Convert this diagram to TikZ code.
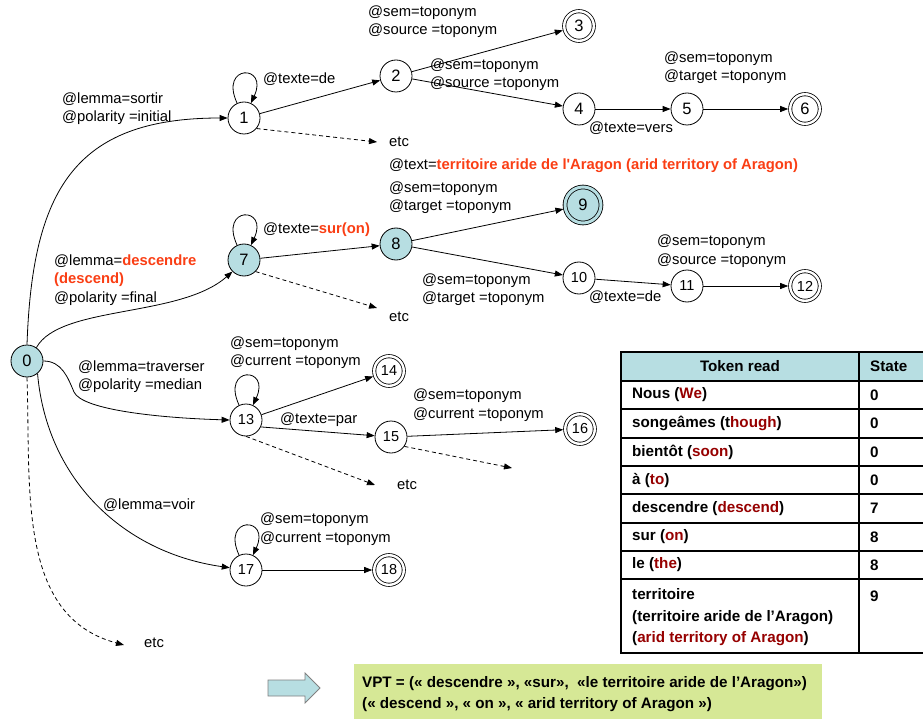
\documentclass[tikz,border=0pt]{standalone}
\usepackage{fontspec}
\setmainfont{Liberation Sans}[Ligatures=TeXOff]
\usetikzlibrary{arrows.meta}

\definecolor{stateblue}{RGB}{183,222,226}
\definecolor{hired}{RGB}{250,62,20}
\definecolor{tokred}{RGB}{150,0,0}
\definecolor{vptgreen}{RGB}{214,232,150}

\newcommand{\hi}[1]{\textbf{\color{hired}#1}}
\newcommand{\tr}[1]{{\color{tokred}#1}}

\begin{document}
\begin{tikzpicture}[x=1pt,y=1pt,
    state/.style={circle,draw,line width=0.8pt,minimum size=32pt,inner sep=0pt,
        fill=white,font=\fontsize{16.5}{18}\selectfont},
    final/.style={state,double,double distance=2.4pt,minimum size=29.6pt,outer sep=2pt},
    seen/.style={fill=stateblue},
    twodig/.style={font=\fontsize{14.5}{16}\selectfont},
    lab/.style={anchor=west,inner sep=0pt,align=left,font=\fontsize{14.8}{18.5}\selectfont},
    tab/.style={anchor=west,inner sep=0pt,align=left,font=\fontsize{15.2}{21.5}\selectfont\bfseries},
    trans/.style={line width=0.8pt,-{Triangle[length=8pt,width=6pt]}},
    dashtrans/.style={trans,dash pattern=on 4pt off 3pt},
    selfloop/.style={out=115,in=65,looseness=8}]
    \useasboundingbox (0,0) rectangle (923,-719);

    % States
    \node[state,seen] (n0) at (27,-361) {0};
    \node[state] (n1) at (244,-118) {1};
    \node[state] (n2) at (396,-76) {2};
    \node[final] (n3) at (579,-26) {3};
    \node[state] (n4) at (579,-109) {4};
    \node[state] (n5) at (687,-109) {5};
    \node[final] (n6) at (805,-109) {6};
    \node[state,seen] (n7) at (244,-260) {7};
    \node[state,seen] (n8) at (396,-244) {8};
    \node[final,seen,double=stateblue,double distance=3pt,minimum size=36pt] (n9) at (583,-205) {9};
    \node[state,twodig] (n10) at (579,-278) {10};
    \node[state,twodig] (n11) at (687,-286) {11};
    \node[final,twodig] (n12) at (805,-286) {12};
    \node[state,twodig] (n13) at (246,-420) {13};
    \node[final,twodig] (n14) at (389,-371) {14};
    \node[state,twodig] (n15) at (391,-437) {15};
    \node[final,twodig] (n16) at (580,-429) {16};
    \node[state,twodig] (n17) at (246,-570) {17};
    \node[final,twodig] (n18) at (389,-570) {18};

    % Open ends
    \coordinate (e0) at (124,-645);
    \coordinate (e1) at (377,-142);
    \coordinate (e7) at (377,-308);
    \coordinate (e13) at (375,-485);
    \coordinate (e15) at (512,-468);
    \node[lab] (etc0) at (144,-643) {etc};
    \node[lab] (etc1) at (389,-142) {etc};
    \node[lab] (etc7) at (389,-317) {etc};
    \node[lab] (etc13) at (397,-485) {etc};

    % From the start state
    \draw[trans] (n0.north) to[out=88,in=180,looseness=1.3] (n1);
    \draw[trans] (n0.55) .. controls (60,-305) and (180,-318) .. (n7.225);
    \draw[trans] (n0.east) .. controls (62,-361) and (68,-378) .. (74,-392)
        .. controls (82,-410) and (160,-418) .. (n13.west);
    \draw[trans] (n0.-50) to[out=-85,in=172] (n17);
    \draw[dashtrans] (n0.south) to[out=-88,in=165] (e0);

    % Self loops
    \draw[trans] (n1) to[selfloop] (n1);
    \draw[trans] (n7) to[selfloop] (n7);
    \draw[trans] (n13) to[selfloop] (n13);
    \draw[trans] (n17) to[selfloop] (n17);

    % Branches
    \draw[trans] (n1) -- (n2);
    \draw[trans] (n2) -- (n3);
    \draw[trans] (n2) -- (n4);
    \draw[trans] (n4) -- (n5);
    \draw[trans] (n5) -- (n6);
    \draw[trans] (n7) -- (n8);
    \draw[trans] (n8) -- (n9);
    \draw[trans] (n8) -- (n10);
    \draw[trans] (n10) -- (n11);
    \draw[trans] (n11) -- (n12);
    \draw[trans] (n13) -- (n14);
    \draw[trans] (n13.-25) -- (n15);
    \draw[trans] (n15) -- (n16);
    \draw[trans] (n17) -- (n18);
    \draw[dashtrans] (n1.-40) -- (e1);
    \draw[dashtrans] (n7.-45) -- (e7);
    \draw[dashtrans] (n13.south) -- (e13);
    \draw[dashtrans] (n15.-35) -- (e15);

    % Transition labels
    \node[lab] (l01) at (62,-108.5) {@lemma=sortir\\@polarity =initial};
    \node[lab] (l07) at (54,-280) {@lemma=\hi{descendre}\\\hi{(descend)}\\@polarity =final};
    \node[lab] (l013) at (78,-376.5) {@lemma=traverser\\@polarity =median};
    \node[lab] (l017) at (103,-505) {@lemma=voir};
    \node[lab] (l12) at (263,-79) {@texte=de};
    \node[lab] (l23) at (368,-21.5) {@sem=toponym\\@source =toponym};
    \node[lab] (l24) at (430,-74.5) {@sem=toponym\\@source =toponym};
    \node[lab] (l45) at (589,-128) {@texte=vers};
    \node[lab] (l56) at (664,-67.5) {@sem=toponym\\@target =toponym};
    \node[lab] (ltext) at (389,-166) {@text=\hi{territoire aride de l'Aragon (arid territory of Aragon)}};
    \node[lab] (l89) at (389,-197.5) {@sem=toponym\\@target =toponym};
    \node[lab] (l78) at (263,-230) {@texte=\hi{sur(on)}};
    \node[lab] (l810) at (422,-289.5) {@sem=toponym\\@target =toponym};
    \node[lab] (l1011) at (589,-297) {@texte=de};
    \node[lab] (l1112) at (657,-251) {@sem=toponym\\@source =toponym};
    \node[lab] (l1314) at (230,-352.5) {@sem=toponym\\@current =toponym};
    \node[lab] (l1315) at (280,-420) {@texte=par};
    \node[lab] (l1516) at (413,-405) {@sem=toponym\\@current =toponym};
    \node[lab] (l1718) at (260,-529) {@sem=toponym\\@current =toponym};

    % Token table
    \fill[stateblue] (621,-352) rectangle (925,-381);
    \draw[line width=1.2pt] (621,-352) rectangle (925,-653);
    \foreach \y in {381,409,438,466,494,523,551,579}
        \draw[line width=1.2pt] (621,-\y) -- (925,-\y);
    \draw[line width=1.2pt] (859,-352) -- (859,-653);
    \node[tab,anchor=center] (th1) at (740,-366.5) {Token read};
    \node[tab] (th2) at (870,-366.5) {State};
    \node[tab] (r1) at (632,-395) {Nous (\tr{We})};
    \node[tab] (s1) at (870,-395) {0};
    \node[tab] (r2) at (632,-423.5) {songeâmes (t\tr{hough})};
    \node[tab] (s2) at (870,-423.5) {0};
    \node[tab] (r3) at (632,-452) {bientôt (\tr{soon})};
    \node[tab] (s3) at (870,-452) {0};
    \node[tab] (r4) at (632,-480) {à (\tr{to})};
    \node[tab] (s4) at (870,-480) {0};
    \node[tab] (r5) at (632,-508.5) {descendre (\tr{descend})};
    \node[tab] (s5) at (870,-508.5) {7};
    \node[tab] (r6) at (632,-537) {sur (\tr{on})};
    \node[tab] (s6) at (870,-537) {8};
    \node[tab] (r7) at (632,-565) {le (\tr{the})};
    \node[tab] (s7) at (870,-565) {8};
    \node[tab] (r8) at (632,-617.5) {territoire\\(territoire aride de l’Aragon)\\(\tr{arid territory of Aragon})};
    \node[tab] (s8) at (870,-596) {9};

    % Result
    \draw[gray,fill=stateblue,line width=0.8pt] (268,-680) -- (305,-680) -- (305,-673)
        -- (320,-688) -- (305,-703) -- (305,-696) -- (268,-696) -- cycle;
    \fill[vptgreen] (354,-664) rectangle (822,-725);
    \node[tab] (vpt) at (362,-694) {VPT = (« descendre », «sur»,~ «le territoire aride de l’Aragon»)\\(« descend », « on », « arid territory of Aragon »)};
\end{tikzpicture}
\end{document}
